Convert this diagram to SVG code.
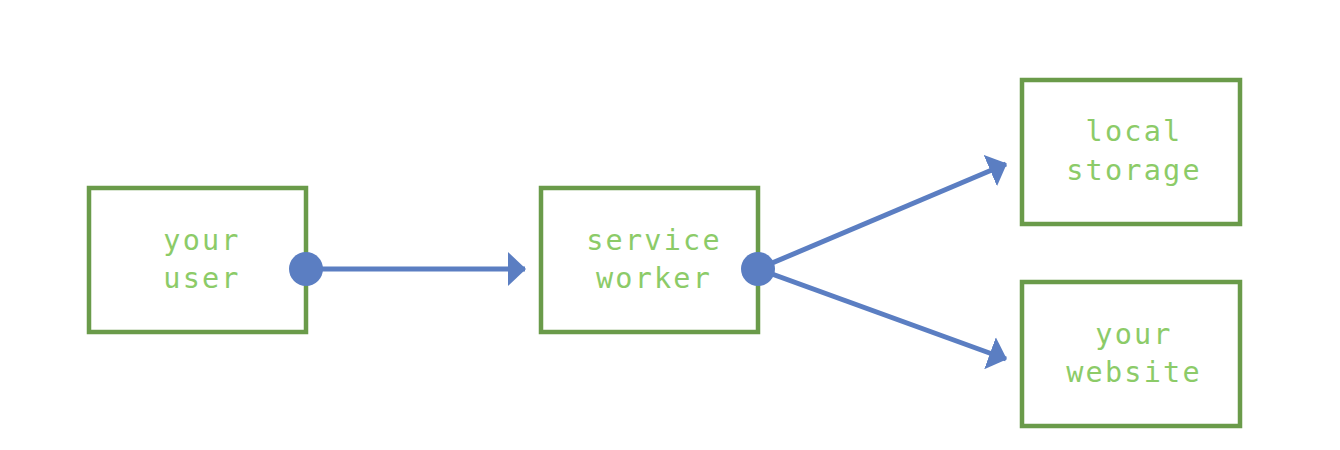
<svg xmlns="http://www.w3.org/2000/svg" width="1340" height="450" viewBox="0 0 1340 450">
<defs>
<marker id="arr" viewBox="0 0 18 34" refX="17" refY="17" markerWidth="18" markerHeight="34" markerUnits="userSpaceOnUse" orient="auto">
<path d="M0,0 L18,17 L0,34 Z" fill="#5b7ec2"/>
</marker>
<style>
.box{fill:#fff;stroke:#6a9b4a;stroke-width:4.5}
.lbl{font-family:"DejaVu Sans Mono","Liberation Mono",monospace;font-size:28.5px;fill:#8ccb68;text-anchor:middle;letter-spacing:2.2px}
.edge{stroke:#5b7ec2;stroke-width:5;fill:none}
.dot{fill:#5b7ec2}
</style>
</defs>
<rect width="1340" height="450" fill="#fff"/>
<g id="user">
<rect class="box" x="89" y="188" width="217" height="144"/>
<text class="lbl" x="202" y="250">your</text>
<text class="lbl" x="202" y="288">user</text>
</g>
<g id="sw">
<rect class="box" x="541" y="188" width="217" height="144"/>
<text class="lbl" x="654" y="250">service</text>
<text class="lbl" x="654" y="288">worker</text>
</g>
<g id="storage">
<rect class="box" x="1022" y="80" width="218" height="144"/>
<text class="lbl" x="1134" y="141">local</text>
<text class="lbl" x="1134" y="180">storage</text>
</g>
<g id="website">
<rect class="box" x="1022" y="282" width="218" height="144"/>
<text class="lbl" x="1134" y="344">your</text>
<text class="lbl" x="1134" y="382">website</text>
</g>
<g id="connectors">
<path class="edge" d="M306,269 L525,269" marker-end="url(#arr)"/>
<path class="edge" d="M758,269 L1006,164" marker-end="url(#arr)"/>
<path class="edge" d="M758,269 L1006,359" marker-end="url(#arr)"/>
<circle class="dot" cx="306" cy="269" r="17"/>
<circle class="dot" cx="758" cy="269" r="17"/>
</g>
</svg>
